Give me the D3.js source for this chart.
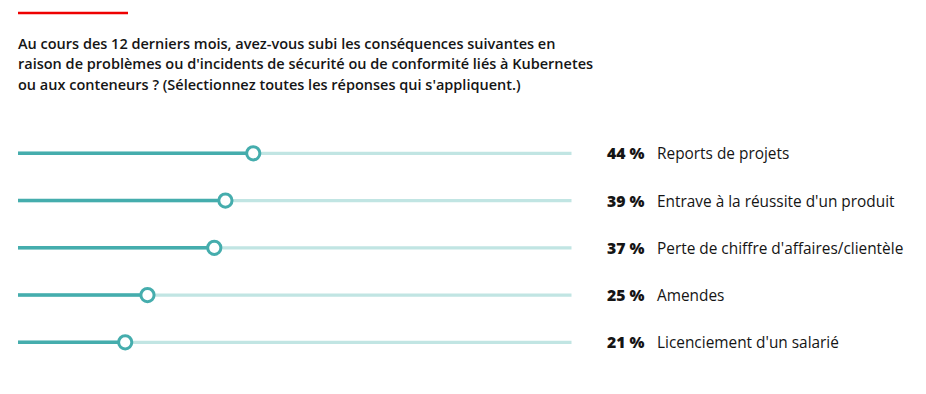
<!DOCTYPE html>
<html><head><meta charset="utf-8">
<script src="https://cdn.jsdelivr.net/npm/d3@7/dist/d3.min.js"></script>
<style>
html,body{margin:0;padding:0;background:#fff;}
svg{display:block;font-family:"Open Sans","Noto Sans",sans-serif;}
</style></head>
<body><svg id="chart" width="926" height="394"></svg>
<script>
const titleLines = [
  "Au cours des 12 derniers mois, avez-vous subi les conséquences suivantes en",
  "raison de problèmes ou d'incidents de sécurité ou de conformité liés à Kubernetes",
  "ou aux conteneurs ? (Sélectionnez toutes les réponses qui s'appliquent.)"
];
const categories = [
  "Reports de projets",
  "Entrave à la réussite d'un produit",
  "Perte de chiffre d'affaires/clientèle",
  "Amendes",
  "Licenciement d'un salarié"
];
const values = [44, 39, 37, 25, 21];

const svg = d3.select("#chart");
const dark = "#45adad", light = "#c1e5e3";

svg.append("line").attr("x1",18).attr("x2",128).attr("y1",13).attr("y2",13)
  .attr("stroke","#ee0000").attr("stroke-width",2.5);

svg.append("g").selectAll("text").data(titleLines).join("text")
  .attr("x",18).attr("y",(d,i)=>49+i*20.3)
  .attr("font-size",14.5).attr("font-weight",600).attr("fill","#151515")
  .text(d=>d);

const x = d3.scaleLinear().domain([0,100]).range([8.3,565]);
const y = d3.scalePoint().domain(categories).range([153.3,342.3]);
const trackL = 18, trackR = 571.5;

const rows = svg.append("g").selectAll("g").data(categories).join("g")
  .attr("transform",d=>`translate(0,${y(d)})`);

rows.append("line").attr("x1",trackL).attr("x2",trackR)
  .attr("stroke",light).attr("stroke-width",3.2);
rows.append("line").attr("x1",trackL).attr("x2",(d,i)=>x(values[i]))
  .attr("stroke",dark).attr("stroke-width",3.4);
rows.append("circle").attr("cx",(d,i)=>x(values[i])).attr("r",6.6)
  .attr("fill","#fff").attr("stroke",dark).attr("stroke-width",3);

rows.append("text").attr("x",607).attr("y",6)
  .attr("font-size",15.8).attr("font-weight",800).attr("fill","#151515")
  .text((d,i)=>values[i] + " %");
rows.append("text").attr("x",657).attr("y",6)
  .attr("font-size",15.4).attr("fill","#151515")
  .text(d=>d);
</script></body></html>
